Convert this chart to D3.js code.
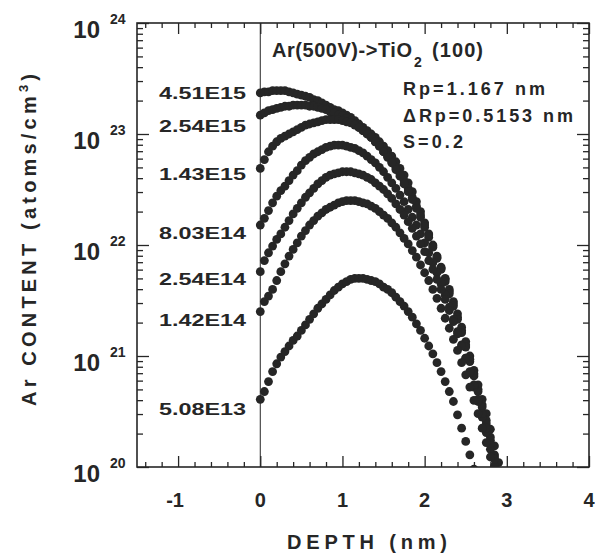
<!DOCTYPE html>
<html>
<head>
<meta charset="utf-8">
<script src="https://cdn.jsdelivr.net/npm/d3@7"></script>
<style>
  body { margin: 0; background: #fff; }
  text { font-family: Arial, "Liberation Sans", Helvetica, sans-serif; font-weight: bold; fill: #262626; }
</style>
</head>
<body>
<svg id="chart" width="595" height="555"></svg>
<script>
// depth (nm), shared by all profiles
var depth = [0.00, 0.05, 0.10, 0.15, 0.20, 0.25, 0.30, 0.35, 0.40, 0.45,
    0.50, 0.55, 0.60, 0.65, 0.70, 0.75, 0.80, 0.85, 0.90, 0.95,
    1.00, 1.05, 1.10, 1.15, 1.20, 1.25, 1.30, 1.35, 1.40, 1.45,
    1.50, 1.55, 1.60, 1.65, 1.70, 1.75, 1.80, 1.85, 1.90, 1.95,
    2.00, 2.05, 2.10, 2.15, 2.20, 2.25, 2.30, 2.35, 2.40, 2.45,
    2.50, 2.55, 2.60, 2.65, 2.70, 2.75, 2.80, 2.85, 2.90]

var doses = ['4.51E15', '2.54E15', '1.43E15', '8.03E14', '2.54E14', '1.42E14', '5.08E13']

// Ar content, log10(atoms/cm3)
var log451e15 = [23.37, 23.38, 23.38, 23.39, 23.39, 23.39, 23.39, 23.38, 23.37, 23.36,
    23.35, 23.34, 23.33, 23.31, 23.30, 23.28, 23.26, 23.24, 23.22, 23.21,
    23.19, 23.17, 23.15, 23.12, 23.09, 23.06, 23.03, 23.00, 22.97, 22.93,
    22.89, 22.85, 22.80, 22.75, 22.69, 22.63, 22.56, 22.48, 22.39, 22.30,
    22.20, 22.10, 22.00, 21.90, 21.80, 21.70, 21.60, 21.49, 21.38, 21.26,
    21.13, 21.00, 20.87, 20.74, 20.61, 20.48, 20.34, 20.19, 20.04]
var log254e15 = [23.17, 23.19, 23.21, 23.22, 23.23, 23.24, 23.25, 23.25, 23.26, 23.26,
    23.26, 23.26, 23.25, 23.25, 23.24, 23.23, 23.22, 23.20, 23.19, 23.17,
    23.16, 23.14, 23.12, 23.09, 23.06, 23.03, 23.00, 22.97, 22.93, 22.89,
    22.84, 22.80, 22.75, 22.70, 22.64, 22.58, 22.51, 22.43, 22.35, 22.27,
    22.18, 22.09, 21.99, 21.89, 21.79, 21.69, 21.58, 21.47, 21.35, 21.23,
    21.10, 20.97, 20.84, 20.70, 20.56, 20.42, 20.27, 20.11, 19.95]
var log143e15 = [22.69, 22.77, 22.84, 22.89, 22.93, 22.96, 22.98, 23.00, 23.02, 23.04,
    23.06, 23.08, 23.09, 23.10, 23.11, 23.12, 23.13, 23.13, 23.13, 23.13,
    23.12, 23.11, 23.10, 23.08, 23.06, 23.03, 23.00, 22.97, 22.93, 22.89,
    22.84, 22.79, 22.74, 22.68, 22.62, 22.55, 22.48, 22.41, 22.33, 22.25,
    22.16, 22.07, 21.98, 21.88, 21.78, 21.67, 21.56, 21.45, 21.33, 21.21,
    21.08, 20.95, 20.82, 20.68, 20.54, 20.39, 20.24, 20.09, 19.93]
var log803e14 = [22.18, 22.24, 22.31, 22.38, 22.44, 22.49, 22.53, 22.58, 22.63, 22.67,
    22.72, 22.76, 22.79, 22.82, 22.84, 22.86, 22.88, 22.89, 22.90, 22.90,
    22.90, 22.89, 22.88, 22.87, 22.85, 22.83, 22.80, 22.77, 22.74, 22.70,
    22.66, 22.61, 22.56, 22.51, 22.45, 22.39, 22.32, 22.25, 22.18, 22.10,
    22.02, 21.93, 21.84, 21.75, 21.65, 21.55, 21.44, 21.33, 21.22, 21.10,
    20.98, 20.85, 20.72, 20.59, 20.45, 20.31, 20.16, 20.01, 19.86]
var log254e14 = [21.76, 21.86, 21.93, 21.99, 22.05, 22.10, 22.16, 22.22, 22.28, 22.33,
    22.38, 22.43, 22.47, 22.51, 22.55, 22.58, 22.61, 22.63, 22.64, 22.65,
    22.66, 22.66, 22.66, 22.65, 22.64, 22.63, 22.61, 22.59, 22.56, 22.53,
    22.50, 22.46, 22.42, 22.37, 22.32, 22.27, 22.21, 22.15, 22.08, 22.01,
    21.94, 21.86, 21.78, 21.69, 21.60, 21.51, 21.41, 21.31, 21.20, 21.09,
    20.98, 20.86, 20.74, 20.61, 20.48, 20.35, 20.21, 20.07, 19.92]
var log142e14 = [21.40, 21.49, 21.54, 21.60, 21.68, 21.76, 21.83, 21.90, 21.96, 22.02,
    22.08, 22.13, 22.18, 22.22, 22.26, 22.29, 22.32, 22.34, 22.36, 22.38,
    22.39, 22.40, 22.40, 22.40, 22.39, 22.38, 22.37, 22.35, 22.33, 22.30,
    22.27, 22.24, 22.20, 22.16, 22.11, 22.06, 22.01, 21.95, 21.89, 21.82,
    21.75, 21.68, 21.60, 21.52, 21.43, 21.34, 21.25, 21.15, 21.05, 20.94,
    20.83, 20.72, 20.60, 20.48, 20.35, 20.22, 20.09, 19.95]
var log508e13 = [20.61, 20.68, 20.77, 20.86, 20.93, 20.99, 21.04, 21.09, 21.14, 21.18,
    21.23, 21.28, 21.33, 21.38, 21.43, 21.47, 21.51, 21.55, 21.59, 21.62,
    21.65, 21.67, 21.69, 21.70, 21.70, 21.70, 21.69, 21.68, 21.67, 21.65,
    21.62, 21.60, 21.57, 21.53, 21.49, 21.45, 21.40, 21.35, 21.29, 21.23,
    21.16, 21.09, 21.02, 20.94, 20.86, 20.77, 20.68, 20.59, 20.47, 20.35,
    20.23, 20.11, 19.98]

var profiles = [log451e15, log254e15, log143e15, log803e14, log254e14, log142e14, log508e13]

var xMajor = [-1, 0, 1, 2, 3, 4]
var decades = [20, 21, 22, 23, 24]

// layout
var ink = '#262626'
var labelBaseline = [99, 132, 180, 239, 285, 326, 415]

var svg = d3.select('#chart')
var x = d3.scaleLinear().domain([-1.5, 4]).range([137, 589])
var y = d3.scaleLog().domain([1e20, 1e24]).range([467, 23])

var xMinor = d3.range(-1.4, 3.95, 0.2).filter(function (v) { return Math.abs(v - Math.round(v)) > 0.01 })
var yMajor = decades.map(function (e) { return Math.pow(10, e) })
var yMinor = []
decades.slice(0, -1).forEach(function (e) {
    d3.range(2, 10).forEach(function (k) { yMinor.push(k * Math.pow(10, e)) })
})

function ticks(axis, transform, values, size) {
    svg.append('g')
        .attr('transform', transform)
        .call(axis.tickValues(values).tickSize(size).tickFormat(''))
        .call(function (g) {
            g.select('.domain').remove()
            g.selectAll('line').attr('stroke', ink).attr('stroke-width', 1.3)
        })
}

ticks(d3.axisBottom(x), 'translate(0,467)', xMajor, -11)
ticks(d3.axisBottom(x), 'translate(0,467)', xMinor, -5)
ticks(d3.axisTop(x), 'translate(0,23)', xMajor, -11)
ticks(d3.axisTop(x), 'translate(0,23)', xMinor, -5)
ticks(d3.axisLeft(y), 'translate(137,0)', yMajor, -12)
ticks(d3.axisLeft(y), 'translate(137,0)', yMinor, -6)
ticks(d3.axisRight(y), 'translate(589,0)', yMajor, -12)
ticks(d3.axisRight(y), 'translate(589,0)', yMinor, -6)

svg.append('rect')
    .attr('x', 137).attr('y', 23).attr('width', 452).attr('height', 444)
    .attr('fill', 'none').attr('stroke', ink).attr('stroke-width', 1.6)

svg.append('line')
    .attr('x1', x(0)).attr('x2', x(0)).attr('y1', 23).attr('y2', 467)
    .attr('stroke', ink).attr('stroke-width', 1)

svg.append('clipPath').attr('id', 'plot')
    .append('rect').attr('x', 137).attr('y', 23).attr('width', 452).attr('height', 444)

var dots = svg.append('g').attr('clip-path', 'url(#plot)')
profiles.forEach(function (p) {
    dots.append('g').selectAll('circle')
        .data(p)
        .join('circle')
        .attr('cx', function (d, i) { return x(depth[i]) })
        .attr('cy', function (d) { return y(Math.pow(10, d)) })
        .attr('r', 4.4)
        .attr('fill', ink)
})

// y tick labels 10^n
decades.forEach(function (e) {
    var ty = y(Math.pow(10, e))
    svg.append('text').attr('x', 100).attr('y', ty + 15)
        .attr('text-anchor', 'end').style('font-size', '24px').text('10')
    svg.append('text').attr('x', 110).attr('y', ty + 1)
        .style('font-size', '14px').text(e)
})

// x tick labels
svg.selectAll('.xlab')
    .data(xMajor)
    .join('text')
    .attr('class', 'xlab')
    .attr('x', function (d) { return x(d) - (d < 0 ? 3 : 0) })
    .attr('y', 507)
    .attr('text-anchor', 'middle')
    .style('font-size', '20px')
    .text(function (d) { return d })

// dose labels
svg.selectAll('.dose')
    .data(doses)
    .join('text')
    .attr('class', 'dose')
    .attr('x', 159)
    .attr('y', function (d, i) { return labelBaseline[i] })
    .attr('textLength', 87)
    .attr('lengthAdjust', 'spacingAndGlyphs')
    .style('font-size', '16px')
    .text(function (d) { return d })

// axis titles
svg.append('text')
    .attr('x', 367).attr('y', 549)
    .attr('text-anchor', 'middle')
    .attr('textLength', 160)
    .style('font-size', '20px')
    .text('DEPTH (nm)')

var yt = svg.append('text')
    .attr('transform', 'translate(36,240) rotate(-90)')
    .attr('text-anchor', 'middle')
    .attr('textLength', 332)
    .style('font-size', '20px')
yt.append('tspan').text('Ar CONTENT (atoms/cm')
yt.append('tspan').attr('dy', -8).style('font-size', '13px').text('3')
yt.append('tspan').attr('dy', 8).text(')')

// annotation
svg.append('text').attr('x', 272).attr('y', 57).attr('textLength', 140)
    .style('font-size', '20px').text('Ar(500V)->TiO')
svg.append('text').attr('x', 414).attr('y', 67)
    .style('font-size', '14px').text('2')
svg.append('text').attr('x', 432).attr('y', 57).attr('textLength', 51)
    .style('font-size', '20px').text('(100)')
svg.append('text').attr('x', 403).attr('y', 95).attr('textLength', 142)
    .style('font-size', '18px').text('Rp=1.167 nm')
svg.append('text').attr('x', 403).attr('y', 122).attr('textLength', 170)
    .style('font-size', '18px').text('\u0394Rp=0.5153 nm')
svg.append('text').attr('x', 403).attr('y', 148).attr('textLength', 60)
    .style('font-size', '18px').text('S=0.2')
</script>
</body>
</html>
